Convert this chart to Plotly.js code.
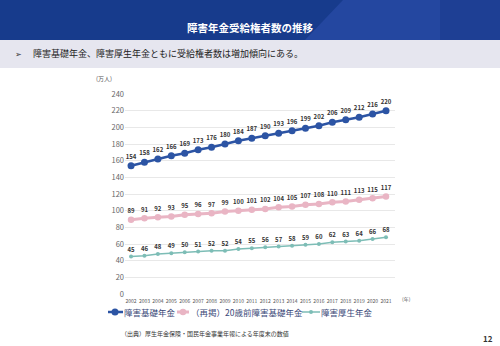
<!DOCTYPE html>
<html>
<head>
<meta charset="utf-8">
<script src="https://cdn.plot.ly/plotly-3.0.1.min.js"></script>
<style>html,body{margin:0;padding:0;background:#fff;}#chart{width:500px;height:346px;}</style>
</head>
<body>
<div id="chart"></div>
<script>
const years = [2002,2003,2004,2005,2006,2007,2008,2009,2010,2011,2012,2013,2014,2015,2016,2017,2018,2019,2020,2021];
const yearLabels = years.map(String);
const seriesNames = ["障害基礎年金", "（再掲）20歳前障害基礎年金", "障害厚生年金"];
const basicPension = [154,158,162,166,169,173,176,180,184,187,190,193,196,199,202,206,209,212,216,220];
const under20Pension = [89,91,92,93,95,96,97,99,100,101,102,104,105,107,108,110,111,113,115,117];
const employeePension = [45,46,48,49,50,51,52,52,54,55,56,57,58,59,60,62,63,64,66,68];
const yTicks = [0,20,40,60,80,100,120,140,160,180,200,220,240];

const W = 500, H = 346;
const px = x => x / W;
const py = y => 1 - y / H;
const FONT = '"Noto Sans CJK JP", "Noto Sans", sans-serif';

const styles = [
  {color: '#2c54a4', lw: 2.5, ms: 7},
  {color: '#e9b5c4', lw: 3, ms: 6.5},
  {color: '#7dbdb6', lw: 1.5, ms: 4}
];
const seriesVals = [basicPension, under20Pension, employeePension];

const data = seriesVals.map((vals, i) => ({
  type: 'scatter', mode: 'lines+markers+text', name: seriesNames[i], showlegend: false,
  x: years, y: vals, text: vals.map(String), textposition: 'top center',
  textfont: {size: 6, color: '#333', family: FONT, weight: 700},
  line: {color: styles[i].color, width: styles[i].lw},
  marker: {color: styles[i].color, size: styles[i].ms},
  cliponaxis: false
}));

function poly(pts) {
  return 'M' + pts.map(p => px(p[0]) + ',' + py(p[1])).join(' L') + ' Z';
}

const shapes = [
  {type: 'rect', xref: 'paper', yref: 'paper', x0: 0, x1: 1, y0: py(40), y1: 1, fillcolor: '#173b8c', line: {width: 0}, layer: 'below'},
  {type: 'path', xref: 'paper', yref: 'paper', path: poly([[343,0],[440,0],[440,40],[305,40]]), fillcolor: '#2447a0', line: {width: 0}, layer: 'below'},
  {type: 'path', xref: 'paper', yref: 'paper', path: poly([[440,0],[500,0],[500,40],[440,40]]), fillcolor: '#1e3f94', line: {width: 0}, layer: 'below'},
  {type: 'rect', xref: 'paper', yref: 'paper', x0: 0, x1: 1, y0: py(68), y1: py(40), fillcolor: '#e6e6ef', line: {width: 0}, layer: 'below'}
];

function ann(text, x, y, size, color, xanchor) {
  return {text: text, xref: 'paper', yref: 'paper', x: px(x), y: py(y), xanchor: xanchor || 'center', yanchor: 'middle',
    showarrow: false, font: {size: size, color: color, family: FONT}};
}

const annotations = [
  ann('<b>障害年金受給権者数の推移</b>', 250, 27, 10.5, '#ffffff'),
  ann('➢', 18, 54, 8, '#333'),
  ann('障害基礎年金、障害厚生年金ともに受給権者数は増加傾向にある。', 31, 54, 9, '#222', 'left'),
  ann('(万人)', 104, 78, 6, '#555'),
  ann('(年)', 406, 299, 5, '#555'),
  ann('（出典）厚生年金保険・国民年金事業年報による年度末の数値', 119, 333, 6, '#333', 'left'),
  ann('<b>12</b>', 488, 338, 8, '#333')
];

// legend keys (line + marker) and labels
const legendKeys = [
  {x0: 108, x1: 123, mx: 115, tx: 122},
  {x0: 177, x1: 189, mx: 183, tx: 189},
  {x0: 302, x1: 320, mx: 311, tx: 319}
];
const LY = 312;
legendKeys.forEach((k, i) => {
  const st = styles[i];
  shapes.push({type: 'line', xref: 'paper', yref: 'paper', x0: px(k.x0), x1: px(k.x1), y0: py(LY), y1: py(LY),
    line: {color: st.color, width: st.lw}});
  const r = st.ms / 2;
  shapes.push({type: 'circle', xref: 'paper', yref: 'paper', x0: px(k.mx - r), x1: px(k.mx + r), y0: py(LY + r), y1: py(LY - r),
    fillcolor: st.color, line: {width: 0}});
  annotations.push(ann(seriesNames[i], k.tx, LY, 8.5, '#3a4878', 'left'));
});

const layout = {
  width: W, height: H,
  margin: {l: 0, r: 0, t: 0, b: 0},
  paper_bgcolor: '#ffffff', plot_bgcolor: '#ffffff',
  font: {family: FONT},
  showlegend: false,
  xaxis: {domain: [px(125), px(395)], range: [2001.55, 2021.67], tickvals: years, ticktext: yearLabels,
    tickfont: {size: 5, color: '#555'}, showgrid: false, zeroline: false, showline: false, ticks: '', ticklen: 0,
    ticklabelstandoff: 3},
  yaxis: {domain: [py(294), py(94)], range: [0, 240], tickvals: yTicks,
    tickfont: {size: 7.5, color: '#666'}, gridcolor: '#e8e8e8', gridwidth: 1, zeroline: false, showline: false, ticks: ''},
  shapes: shapes,
  annotations: annotations
};

Plotly.newPlot('chart', data, layout, {displayModeBar: false, staticPlot: true});
</script>
</body>
</html>
